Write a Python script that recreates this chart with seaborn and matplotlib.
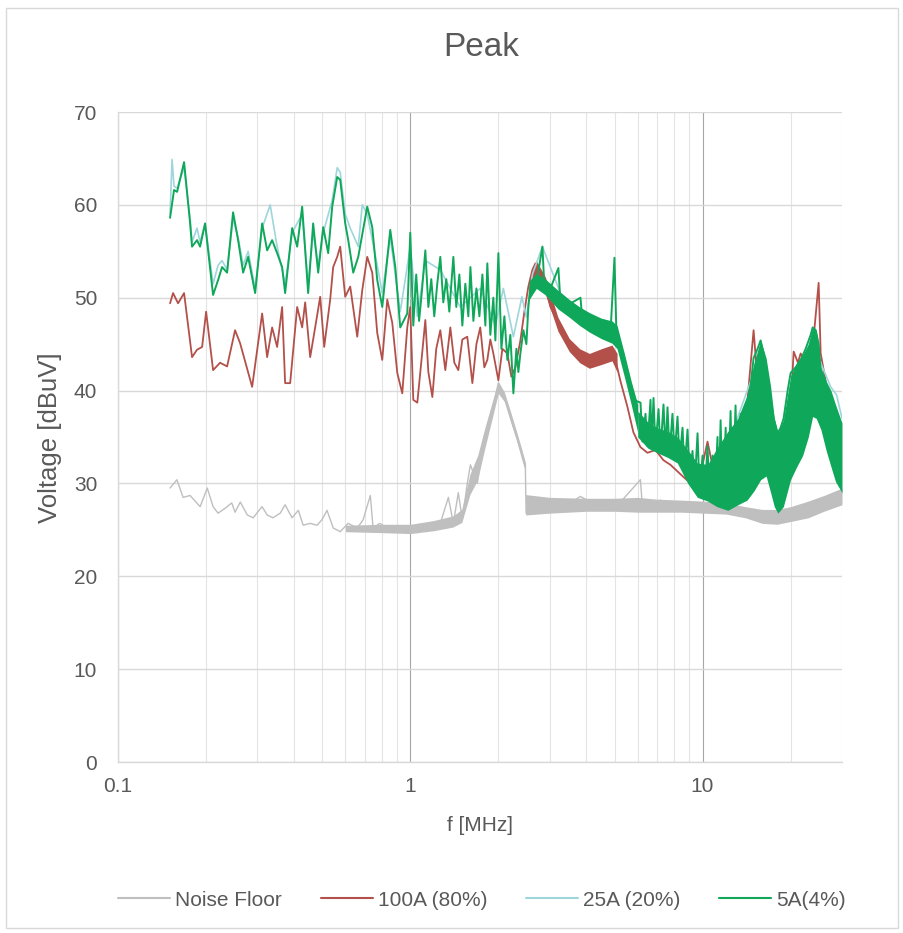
import numpy as np
import pandas as pd
import seaborn as sns
import matplotlib
matplotlib.use("Agg")
from matplotlib import pyplot as plt
from matplotlib.ticker import FixedLocator, FixedFormatter, LogLocator, NullFormatter
from matplotlib.lines import Line2D
from matplotlib.patches import Rectangle

# ------------------------------------------------------------
# data (f in MHz, level in dBuV)
# ------------------------------------------------------------
series_names = ["Noise Floor", "100A (80%)", "25A (20%)", "5A(4%)"]
series_colors = ["#BFBFBF", "#B3504A", "#9ED6DC", "#0FA75A"]

x_ticks = [0.1, 1, 10]
x_tick_labels = ["0.1", "1", "10"]
y_ticks = [0, 10, 20, 30, 40, 50, 60, 70]

# Noise Floor
nf_freq = [0.1507, 0.159, 0.167, 0.1765, 0.191, 0.202, 0.2115, 0.220, 0.232, 0.245,
           0.2515, 0.262, 0.277, 0.290, 0.311, 0.324, 0.339, 0.359, 0.373, 0.394,
           0.414, 0.430, 0.4545, 0.480, 0.499, 0.519, 0.545, 0.576, 0.613, 0.659,
           0.690, 0.730, 0.746, 0.786, 0.834, 0.874, 0.924, 1.0, 1.057, 1.144,
           1.20, 1.267, 1.35, 1.404, 1.46, 1.507, 1.567, 1.606, 1.696, 1.78,
           1.835, 1.91, 2.0, 2.08, 2.149, 2.289, 2.41, 2.476, 2.49, 2.78,
           3.26, 3.82, 4.47, 5.24, 6.13, 6.23, 7.18, 8.41, 9.84, 11.53,
           13.5, 15.8, 17.8, 20.0, 23.4, 26.4, 30.0]
nf_dbuv = [29.5, 30.4, 28.5, 28.7, 27.5, 29.5, 27.5, 26.8, 27.3, 27.9,
           26.9, 28.0, 26.6, 26.3, 27.5, 26.6, 26.3, 26.8, 27.7, 26.3,
           27.1, 25.5, 25.7, 25.5, 26.1, 27.1, 25.2, 24.8, 25.7, 25.2,
           26.1, 28.7, 25.2, 25.7, 25.2, 24.7, 25.2, 25.0, 24.7, 25.5,
           25.2, 25.7, 28.5, 25.7, 29.0, 26.1, 30.0, 32.0, 30.0, 34.7,
           36.1, 37.9, 40.8, 39.5, 38.2, 35.4, 33.3, 31.8, 26.8, 28.3,
           27.2, 28.6, 27.4, 28.0, 30.4, 27.3, 28.2, 27.3, 27.8, 27.4,
           27.0, 26.5, 26.0, 26.6, 27.2, 28.0, 28.8]

# noise floor thickness (spread of the noisy trace)
nf_band_freq = [0.6, 0.8, 1.0, 1.2, 1.4, 1.5, 1.6, 1.7, 1.8, 1.9, 2.0, 2.1, 2.2, 2.3, 2.4, 2.48]
nf_band_lo = [24.8, 24.7, 24.6, 24.9, 25.3, 25.8, 28.8, 30.4, 33.8, 36.8, 39.7, 38.8, 36.7, 34.8, 32.7, 31.2]
nf_band_hi = [25.5, 25.6, 25.6, 26.0, 26.5, 27.2, 31.0, 33.0, 36.0, 38.6, 41.0, 39.8, 37.8, 35.8, 33.8, 32.2]

nf_noise_freq = [2.48, 3.0, 4.0, 5.0, 6.0, 7.0, 8.5, 10, 12, 14, 16, 18, 20, 23, 26, 30]
nf_noise_lo = [26.6, 26.8, 27.0, 27.0, 26.9, 26.9, 26.9, 26.8, 26.7, 26.3, 25.7, 25.6, 25.9, 26.3, 27.0, 27.7]
nf_noise_hi = [28.8, 28.5, 28.4, 28.4, 28.5, 28.3, 28.2, 28.1, 27.9, 27.5, 27.2, 27.2, 27.5, 28.1, 28.7, 29.5]

# 100A (80%)
a100_freq = [0.1507, 0.1543, 0.1605, 0.1683, 0.1792, 0.1864, 0.194, 0.2002, 0.2115, 0.2235,
             0.2362, 0.2515, 0.2617, 0.2877, 0.3113, 0.3238, 0.3368, 0.3503, 0.3644, 0.3731,
             0.3882, 0.4102, 0.4267, 0.4369, 0.4545, 0.4727, 0.4918, 0.5076, 0.5321, 0.5448,
             0.5623, 0.5758, 0.599, 0.6231, 0.6585, 0.6849, 0.7124, 0.7411, 0.7709, 0.8019,
             0.8341, 0.8677, 0.9027, 0.9389, 0.9766, 1.0, 1.024, 1.057, 1.098, 1.126,
             1.153, 1.19, 1.227, 1.267, 1.318, 1.371, 1.415, 1.46, 1.507, 1.567,
             1.631, 1.684, 1.736, 1.792, 1.835, 1.879, 1.924, 2.002, 2.066, 2.149,
             2.217, 2.289, 2.381, 2.457, 2.535, 2.617, 2.68, 2.72, 2.855, 3.017,
             3.263, 3.531, 3.822, 4.135, 4.474, 4.841, 5.036, 5.24, 5.538, 5.8,
             6.134, 6.48, 6.9, 7.35, 7.77, 8.4, 9.1, 9.84, 10.4, 10.8,
             11.53, 13.5, 14.95, 15.43, 16.2, 17.1, 18.5, 20.0, 20.5, 21.2,
             21.66, 23.4, 24.96, 25.36, 27.44, 30.0]
a100_dbuv = [49.4, 50.5, 49.4, 50.5, 43.6, 44.4, 44.7, 48.5, 42.2, 43.0,
             42.6, 46.5, 45.1, 40.4, 48.3, 43.6, 46.8, 44.7, 49.0, 40.8,
             40.8, 49.0, 46.8, 49.5, 43.6, 46.8, 50.1, 44.7, 49.8, 53.3,
             54.4, 55.5, 50.1, 51.2, 45.8, 50.8, 54.4, 52.7, 46.2, 43.3,
             49.8, 47.3, 41.9, 39.7, 46.8, 49.0, 39.0, 38.7, 44.0, 47.6,
             42.0, 39.3, 44.5, 46.5, 42.2, 46.8, 43.0, 42.2, 45.5, 45.8,
             40.8, 45.0, 46.8, 42.5, 43.3, 45.5, 44.0, 41.1, 44.5, 44.0,
             41.5, 42.5, 45.4, 48.5, 51.2, 53.0, 53.7, 52.5, 51.9, 49.0,
             46.8, 44.7, 43.6, 43.0, 43.6, 44.0, 43.3, 41.0, 38.2, 35.5,
             33.9, 33.3, 33.6, 32.5, 32.0, 31.0, 30.0, 31.0, 34.5, 32.0,
             29.5, 30.5, 46.5, 41.0, 40.0, 31.0, 28.0, 38.0, 44.2, 43.0,
             44.0, 42.0, 51.6, 44.0, 38.0, 35.0]

a100_band_freq = [2.55, 2.7, 2.9, 3.2, 3.5, 3.8, 4.1, 4.5, 4.9, 5.1]
a100_band_lo = [50.3, 52.6, 50.4, 46.4, 44.2, 43.0, 42.4, 42.8, 43.2, 42.0]
a100_band_hi = [51.8, 54.0, 52.2, 47.9, 45.6, 44.5, 44.0, 44.5, 44.9, 44.0]

# 25A (20%)
a25_freq = [0.1507, 0.1531, 0.1555, 0.1593, 0.1683, 0.1765, 0.1792, 0.1864, 0.1909, 0.1986,
            0.2115, 0.22, 0.227, 0.2362, 0.2476, 0.2576, 0.268, 0.2788, 0.2946, 0.3113,
            0.3316, 0.3503, 0.3731, 0.3944, 0.4267, 0.4473, 0.4653, 0.4841, 0.5036, 0.5406,
            0.5623, 0.5758, 0.599, 0.6231, 0.6637, 0.6849, 0.7124, 0.7709, 0.8019, 0.8541,
            0.9243, 1.0, 1.057, 1.126, 1.267, 1.483, 1.736, 1.955, 2.082, 2.253,
            2.41, 2.496, 2.617, 2.832, 3.263, 3.822, 4.474, 4.996, 5.24, 5.668,
            6.134, 7.181, 9.097, 11.53, 15.8, 18.5, 21.66, 23.81, 25.36, 27.44,
            28.77, 30.0]
a25_dbuv = [59.0, 64.9, 62.0, 61.8, 64.0, 58.5, 56.0, 57.5, 56.0, 58.0,
            51.5, 53.5, 54.0, 53.0, 58.5, 56.5, 53.5, 55.0, 51.0, 57.5,
            60.0, 55.5, 51.5, 57.0, 59.0, 51.5, 57.0, 53.5, 57.0, 60.5,
            64.0, 63.5, 59.0, 57.5, 55.5, 60.0, 59.0, 53.5, 50.5, 56.5,
            48.5, 55.5, 48.0, 54.0, 53.0, 49.0, 51.0, 47.0, 51.0, 45.8,
            50.1, 47.9, 52.5, 55.5, 50.5, 48.5, 47.0, 47.0, 44.5, 40.0,
            36.5, 34.5, 32.0, 32.0, 44.0, 33.0, 42.0, 46.0, 43.0, 40.4,
            39.5, 37.0]

# 5A(4%)
a5_freq = [0.1507, 0.1555, 0.1593, 0.1683, 0.1765, 0.1792, 0.1864, 0.1909, 0.1986, 0.2115,
           0.22, 0.227, 0.2362, 0.2476, 0.2576, 0.268, 0.2788, 0.2946, 0.3113, 0.3238,
           0.3368, 0.3503, 0.3644, 0.3731, 0.3944, 0.4102, 0.4267, 0.4473, 0.4653, 0.4841,
           0.5036, 0.5238, 0.5406, 0.5623, 0.5758, 0.599, 0.6134, 0.638, 0.6637, 0.7124,
           0.7411, 0.7709, 0.8019, 0.8541, 0.8885, 0.9243, 0.9766, 1.0, 1.024, 1.048,
           1.072, 1.098, 1.126, 1.153, 1.180, 1.208, 1.237, 1.267, 1.297, 1.328,
           1.360, 1.404, 1.437, 1.472, 1.507, 1.543, 1.580, 1.606, 1.644, 1.684,
           1.724, 1.765, 1.807, 1.835, 1.879, 1.924, 1.955, 2.002, 2.050, 2.099,
           2.149, 2.200, 2.253, 2.307, 2.343, 2.381, 2.438, 2.496, 2.535, 2.576,
           2.722, 2.832, 2.87, 3.017, 3.212, 3.263, 3.449, 3.822, 3.88, 4.474,
           4.841, 4.996, 5.08, 5.24, 5.538, 5.8, 6.134, 6.23, 6.38, 6.48,
           6.637, 6.69, 6.796, 6.90, 7.07, 7.181, 7.352, 7.47, 7.588, 7.71,
           7.89, 8.02, 8.211, 8.34, 8.54, 8.67, 8.886, 9.03, 9.24, 9.39,
           9.614, 9.77, 10.0, 10.16, 10.40, 10.57, 10.82, 11.0, 11.25, 11.34,
           11.53, 11.71, 12.0, 12.18, 12.47, 12.67, 12.97, 13.18, 13.5, 13.71,
           14.04, 14.26, 14.6, 14.95, 15.43, 15.8, 16.18, 16.7, 17.1, 17.51,
           18.07, 18.5, 18.94, 19.55, 20.02, 20.82, 21.66, 22.53, 23.44, 23.81,
           24.38, 24.96, 25.36, 25.97, 26.59, 27.44, 28.09, 28.77, 29.70, 30.0]
a5_dbuv = [58.6, 61.6, 61.4, 64.6, 58.0, 55.5, 56.2, 55.5, 58.0, 50.3,
           51.9, 53.3, 52.7, 59.2, 56.2, 52.7, 54.4, 50.5, 58.0, 55.1,
           56.2, 54.8, 53.3, 50.5, 57.5, 55.5, 59.8, 50.5, 58.0, 52.7,
           57.6, 54.8, 59.8, 63.0, 62.7, 58.0, 56.2, 52.7, 54.4, 59.8,
           57.6, 51.9, 49.0, 57.3, 53.3, 46.8, 48.3, 57.0, 47.0, 52.5,
           47.5, 51.0, 55.1, 49.0, 52.0, 48.0, 51.5, 54.4, 49.5, 52.0,
           48.5, 54.4, 49.0, 52.5, 47.0, 51.5, 48.0, 53.3, 47.5, 51.0,
           48.0, 52.5, 47.0, 53.7, 46.0, 50.0, 45.4, 54.8, 44.5, 48.0,
           43.3, 46.0, 39.7, 44.5, 42.0, 44.0, 46.5, 45.0, 49.0, 51.2,
           52.2, 55.5, 51.8, 51.0, 53.2, 49.6, 49.2, 50.0, 47.6, 46.5,
           46.2, 54.3, 45.5, 44.0, 41.9, 39.0, 38.7, 34.5, 37.5, 34.0,
           39.0, 34.0, 39.2, 33.8, 38.0, 33.5, 38.5, 33.5, 38.2, 33.2,
           37.5, 33.0, 37.2, 32.5, 36.0, 31.5, 35.8, 30.5, 33.5, 29.5,
           35.4, 29.0, 33.0, 28.5, 34.0, 28.3, 33.0, 28.0, 35.0, 28.0,
           36.8, 27.8, 36.0, 27.5, 37.8, 27.8, 38.4, 28.0, 37.5, 28.2,
           38.2, 29.0, 40.5, 43.5, 44.5, 45.4, 44.0, 41.0, 39.0, 37.0,
           35.4, 36.0, 37.0, 40.0, 41.9, 42.5, 43.3, 44.5, 46.0, 46.8,
           46.5, 45.0, 42.2, 41.5, 40.5, 39.5, 38.5, 37.5, 36.5, 36.0]

# thick core of the 5A trace (2.5 - 6 MHz) and the dense ringing above 6 MHz
a5_band_freq = [2.55, 2.7, 2.9, 3.2, 3.5, 3.8, 4.1, 4.5, 4.9, 5.1, 5.4, 5.7, 6.0]
a5_band_lo = [49.8, 51.0, 50.3, 48.8, 47.9, 47.0, 46.3, 45.6, 45.1, 44.5, 41.5, 38.5, 35.5]
a5_band_hi = [51.8, 52.6, 52.0, 50.8, 49.8, 49.0, 48.4, 47.8, 47.5, 47.0, 44.0, 41.0, 38.5]

a5_fill_freq = [6.0, 6.5, 7.0, 7.6, 8.2, 8.9, 9.6, 10.4, 11.2, 12.2,
                13.2, 14.2, 15.0, 15.8, 16.5, 17.1, 17.6, 18.1, 18.9, 20.0,
                21.0, 22.0, 23.0, 23.8, 24.5, 25.4, 26.5, 27.5, 28.5, 30.0]
a5_fill_lo = [35.0, 33.8, 33.3, 32.8, 32.2, 30.0, 28.5, 28.1, 27.5, 27.1,
              27.7, 28.2, 29.2, 30.4, 30.8, 29.0, 27.5, 26.8, 27.5, 30.4,
              31.8, 33.0, 35.0, 37.2, 37.0, 35.8, 33.5, 31.8, 30.2, 29.0]
a5_fill_hi = [37.8, 36.6, 36.0, 35.6, 35.0, 33.6, 32.2, 32.0, 33.8, 35.6,
              37.0, 39.5, 43.0, 45.4, 43.5, 40.4, 37.0, 35.4, 36.8, 41.5,
              43.0, 43.8, 45.0, 46.8, 46.5, 42.5, 41.0, 40.0, 38.5, 36.5]

# ------------------------------------------------------------
# figure
# ------------------------------------------------------------
sns.set_style("white")
plt.rcParams['font.family'] = ['Liberation Sans', 'DejaVu Sans']
text_col = "#595959"

fig = plt.figure(figsize=(9.04, 9.33), dpi=100)
ax = fig.add_axes([118 / 904, 1 - 762 / 933, 724 / 904, 650 / 933])

traces = [
    (nf_freq, nf_dbuv, [(nf_band_freq, nf_band_lo, nf_band_hi), (nf_noise_freq, nf_noise_lo, nf_noise_hi)], 1.0),
    (a100_freq, a100_dbuv, [(a100_band_freq, a100_band_lo, a100_band_hi)], 1.3),
    (a25_freq, a25_dbuv, [], 1.2),
    (a5_freq, a5_dbuv, [(a5_band_freq, a5_band_lo, a5_band_hi), (a5_fill_freq, a5_fill_lo, a5_fill_hi)], 1.4),
]

for i, (fx, fy, bands, lw) in enumerate(traces):
    col = series_colors[i]
    for bf, blo, bhi in bands:
        ax.fill_between(bf, blo, bhi, color=col, lw=0, zorder=2 + i)
    df = pd.DataFrame({"f": fx, "v": fy})
    sns.lineplot(data=df, x="f", y="v", ax=ax, color=col, lw=lw, sort=False,
                 estimator=None, zorder=2 + i, legend=False)

ax.set_xscale("log")
ax.set_xlim(0.1, 30)
ax.set_ylim(0, 70)
ax.xaxis.set_major_locator(FixedLocator(x_ticks))
ax.xaxis.set_major_formatter(FixedFormatter(x_tick_labels))
ax.xaxis.set_minor_locator(LogLocator(base=10.0, subs=np.arange(2, 10) * 1.0, numticks=12))
ax.xaxis.set_minor_formatter(NullFormatter())
ax.set_yticks(y_ticks)
ax.set_yticklabels([str(v) for v in y_ticks])

ax.set_axisbelow(True)
ax.grid(which="major", axis="y", color="#D9D9D9", lw=1.0)
ax.grid(which="major", axis="x", color="#A6A6A6", lw=0.8)
ax.grid(which="minor", axis="x", color="#E4E4E4", lw=0.8)

for side in ["top", "right"]:
    ax.spines[side].set_visible(False)
for side in ["left", "bottom"]:
    ax.spines[side].set_color("#D9D9D9")
    ax.spines[side].set_linewidth(1.0)

ax.tick_params(axis="both", which="both", length=0, colors=text_col, labelsize=15)
ax.tick_params(axis="y", pad=15)
ax.tick_params(axis="x", pad=11)

ax.set_xlabel("f [MHz]", fontsize=15, color=text_col)
ax.xaxis.set_label_coords(0.5, (762 - 816) / 650)
ax.set_ylabel("Voltage [dBuV]", fontsize=18.5, color=text_col)
ax.yaxis.set_label_coords((62 - 118) / 724, (762 - 438) / 650)

fig.text(481 / 904, 1 - 48 / 933, "Peak", ha="center", va="center", fontsize=24, color=text_col)

handles = [Line2D([0], [0], color=c, lw=1.5) for c in series_colors]
fig.legend(handles, series_names, loc="center", bbox_to_anchor=(482 / 904, 1 - 900 / 933), ncol=4,
           frameon=False, fontsize=15, handlelength=2.5, handletextpad=0.25, columnspacing=1.85,
           labelcolor=text_col)

fig.add_artist(Rectangle((6 / 904, 1 - 928 / 933), 892 / 904, 920 / 933, transform=fig.transFigure,
                         fill=False, edgecolor="#D9D9D9", lw=1.0))

fig.savefig("out.png", dpi=100, facecolor="white")
